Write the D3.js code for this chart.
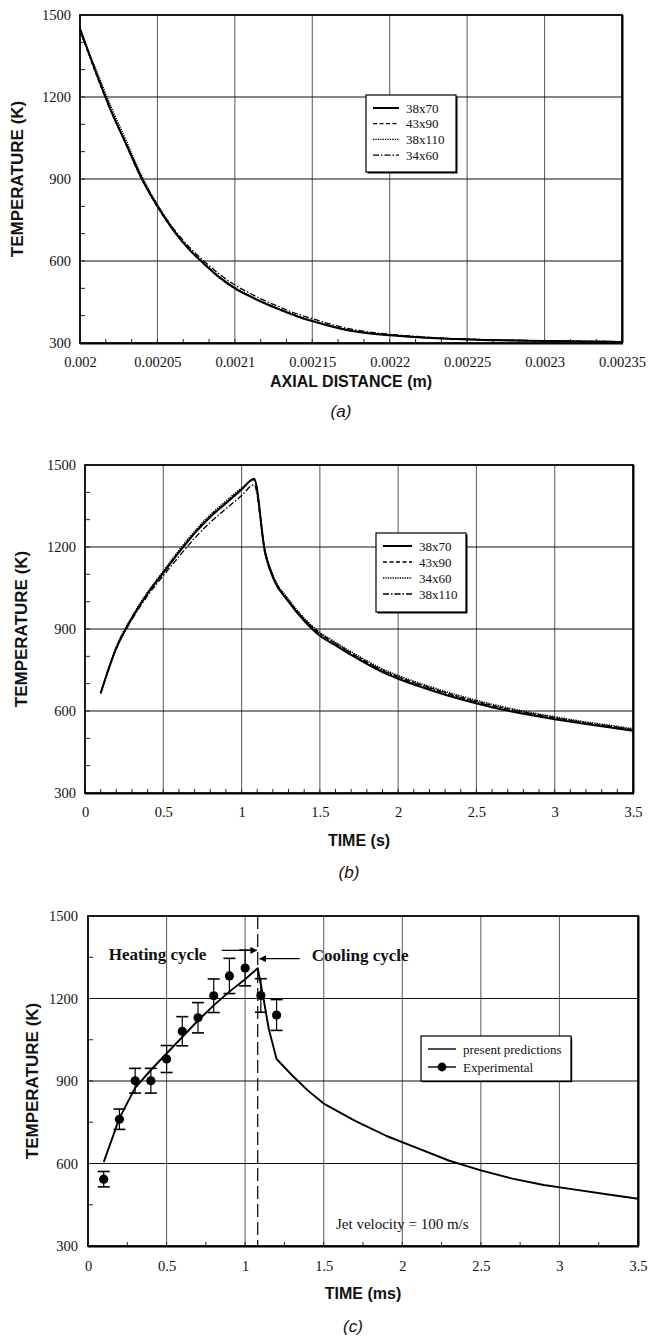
<!DOCTYPE html>
<html>
<head>
<meta charset="utf-8">
<script src="https://cdn.jsdelivr.net/npm/d3@7"></script>
<style>
  html, body { margin: 0; padding: 0; background: #fff; }
  svg { display: block; }
  .serif { font-family: "Liberation Serif", "DejaVu Serif", "Times New Roman", serif; }
  .sans { font-family: "Liberation Sans", Arial, "DejaVu Sans", sans-serif; }
</style>
</head>
<body>
<script>
// ---------------- DATA ----------------
// Panel (a): temperature vs axial distance, four grids
const aX = [0.002,0.00201,0.00202,0.00203,0.00204,0.00205,0.00206,0.00207,0.00208,0.00209,0.0021,0.00211,0.00212,0.00213,0.00214,0.00215,0.00216,0.00217,0.00218,0.00219,0.0022,0.00221,0.00222,0.00223,0.00224,0.00225,0.00227,0.0023,0.00235];
const a38x70  = [1450,1295,1150,1025,900,800,715,645,590,540,500,470,443,420,398,380,364,350,340,333,328,324,320,317,315,313,310,307,304];
const a43x90  = [1445,1290,1148,1022,898,798,714,645,590,541,501,471,444,421,399,381,365,351,341,334,329,325,321,318,316,314,311,308,305];
const a38x110 = [1440,1305,1165,1038,910,806,718,648,593,543,503,472,445,422,400,382,366,352,342,335,330,325,321,318,316,314,311,308,305];
const a34x60  = [1448,1298,1152,1028,904,805,722,654,600,552,512,481,453,429,407,389,372,357,346,338,332,327,323,319,316,314,311,308,305];
const aSeriesNames = ["38x70","43x90","38x110","34x60"];
const aXTicks = [0.002,0.00205,0.0021,0.00215,0.0022,0.00225,0.0023,0.00235];
const aXTickLabels = ["0.002","0.00205","0.0021","0.00215","0.0022","0.00225","0.0023","0.00235"];

// Panel (b): temperature vs time, four grids
const bT = [0.1,0.2,0.3,0.4,0.5,0.6,0.7,0.8,0.9,1.0,1.08,1.15,1.2,1.3,1.4,1.5,1.6,1.7,1.8,1.9,2.0,2.2,2.4,2.6,2.8,3.0,3.2,3.4,3.5];
const b38x70  = [665,830,940,1030,1105,1180,1250,1310,1360,1410,1450,1180,1090,1000,930,875,840,805,772,742,718,678,643,614,590,570,552,536,528];
const b43x90  = [665,832,942,1032,1108,1183,1253,1313,1363,1412,1448,1185,1095,1006,937,884,848,813,780,750,726,686,651,621,597,576,557,541,532];
const b34x60  = [665,835,945,1035,1112,1188,1258,1318,1368,1416,1445,1188,1098,1009,940,888,852,817,784,754,730,690,655,625,600,579,560,544,535];
const b38x110 = [665,828,935,1022,1095,1165,1232,1290,1340,1388,1428,1175,1088,1002,935,882,846,811,778,748,724,684,648,619,595,575,556,540,531];
const bSeriesNames = ["38x70","43x90","34x60","38x110"];
const tTicks = [0,0.5,1,1.5,2,2.5,3,3.5];
const tTickLabels = ["0","0.5","1","1.5","2","2.5","3","3.5"];

// Panel (c): predictions vs experiment
const cT    = [0.1,0.2,0.3,0.4,0.5,0.6,0.7,0.8,0.9,1.0,1.08,1.12,1.15,1.2,1.3,1.4,1.5,1.7,1.9,2.1,2.3,2.5,2.7,2.9,3.1,3.3,3.5];
const cPred = [605,765,875,940,1000,1060,1120,1175,1225,1270,1310,1190,1090,980,920,865,818,755,700,655,610,575,545,522,505,488,472];
const expT    = [0.1,0.2,0.3,0.4,0.5,0.6,0.7,0.8,0.9,1.0,1.1,1.2];
const expTemp = [543,761,901,901,980,1081,1130,1210,1282,1311,1211,1140];
const expErr  = [28,37,45,45,49,53,55,61,64,65,61,56];
const cycleSwitch = 1.08;

const yTicks = [300,600,900,1200,1500];
const yTickLabels = ["300","600","900","1200","1500"];

// ---------------- DRAWING ----------------
const svg = d3.select("body").append("svg").attr("width",650).attr("height",1338);
svg.append("rect").attr("width",650).attr("height",1338).attr("fill","#fff");

const styles = {
  solid:   {w:2.0, dash:null},
  dashed:  {w:1.3, dash:"4,2.5"},
  dotted:  {w:1.4, dash:"1.3,1.1"},
  dashdot: {w:1.3, dash:"6,2,1.5,2"}
};

function panel(o){
  const x = d3.scaleLinear().domain(o.xDomain).range([o.left,o.right]);
  const y = d3.scaleLinear().domain([300,1500]).range([o.bottom,o.top]);
  const g = svg.append("g");

  g.selectAll(".vg").data(o.xTicks.slice(1,-1)).join("line")
    .attr("x1",d=>x(d)).attr("x2",d=>x(d)).attr("y1",o.top).attr("y2",o.bottom)
    .attr("stroke","#666").attr("stroke-width",1.1);
  g.selectAll(".hg").data(yTicks.slice(1,-1)).join("line")
    .attr("x1",o.left).attr("x2",o.right).attr("y1",d=>y(d)).attr("y2",d=>y(d))
    .attr("stroke","#111").attr("stroke-width",1.2);

  const xMinor = d3.range(o.xDomain[0], o.xDomain[1]+1e-12, o.xMinorStep);
  g.selectAll(".xm").data(xMinor).join("line")
    .attr("x1",d=>x(d)).attr("x2",d=>x(d)).attr("y1",o.bottom).attr("y2",o.bottom-4)
    .attr("stroke","#222").attr("stroke-width",1);
  const yMinor = d3.range(300,1500,o.yMinorStep);
  g.selectAll(".ym").data(yMinor).join("line")
    .attr("x1",o.left).attr("x2",o.left+5).attr("y1",d=>y(d)).attr("y2",d=>y(d))
    .attr("stroke","#222").attr("stroke-width",1);

  const xa = g.append("g").attr("transform",`translate(0,${o.bottom})`)
    .call(d3.axisBottom(x).tickValues(o.xTicks).tickSize(0).tickPadding(o.xPad)
      .tickFormat((d,i)=>o.xLabels[i]));
  const ya = g.append("g").attr("transform",`translate(${o.left},0)`)
    .call(d3.axisLeft(y).tickValues(yTicks).tickSize(0).tickPadding(o.yPad)
      .tickFormat((d,i)=>yTickLabels[i]));
  [xa,ya].forEach(a=>{
    a.attr("font-family",null).attr("font-size",null);
    a.select(".domain").remove();
    a.selectAll("text").attr("class","serif").style("font-size","14.5px").attr("fill","#111");
  });

  g.append("rect").attr("x",o.left).attr("y",o.top)
    .attr("width",o.right-o.left).attr("height",o.bottom-o.top)
    .attr("fill","none").attr("stroke","#000").attr("stroke-width",1.8);
  g.append("line").attr("x1",o.left).attr("x2",o.right+1).attr("y1",o.bottom+0.8).attr("y2",o.bottom+0.8)
    .attr("stroke","#000").attr("stroke-width",1.6);
  g.append("line").attr("x1",o.right+0.8).attr("x2",o.right+0.8).attr("y1",o.top).attr("y2",o.bottom)
    .attr("stroke","#000").attr("stroke-width",1.4);

  svg.append("text").attr("class","sans").attr("transform",`translate(${o.yTitleX},${(o.top+o.bottom)/2}) rotate(-90)`)
    .attr("text-anchor","middle").attr("dominant-baseline","central")
    .style("font-weight","bold").style("font-size","17px").attr("fill","#111")
    .text("TEMPERATURE (K)");
  svg.append("text").attr("class","sans").attr("x",(o.left+o.right)/2).attr("y",o.xTitleY)
    .attr("text-anchor","middle").attr("dominant-baseline","central")
    .style("font-weight","bold").style("font-size","16px").attr("fill","#111")
    .text(o.xTitle);
  svg.append("text").attr("class","sans").attr("x",(o.left+o.right)/2 - 10).attr("y",o.capY)
    .attr("text-anchor","middle").attr("dominant-baseline","central")
    .style("font-style","italic").style("font-size","17px").attr("fill","#111")
    .text(o.cap);
  return {x,y,g};
}

function drawSeries(p, xs, ys, st){
  const line = d3.line().x(d=>p.x(d[0])).y(d=>p.y(d[1])).curve(d3.curveMonotoneX);
  p.g.append("path").datum(d3.zip(xs,ys)).attr("d",line)
    .attr("fill","none").attr("stroke","#000").attr("stroke-width",st.w)
    .attr("stroke-dasharray",st.dash).attr("stroke-linejoin","round");
}

function legend(x0,y0,w,h,names,sts,rowH,sampleLen){
  const g = svg.append("g").attr("transform",`translate(${x0},${y0})`);
  g.append("rect").attr("x",1.5).attr("y",1.5).attr("width",w).attr("height",h).attr("fill","#000");
  g.append("rect").attr("width",w).attr("height",h).attr("fill","#fff").attr("stroke","#000").attr("stroke-width",1.2);
  names.forEach((n,i)=>{
    const yy = 13 + i*rowH;
    g.append("line").attr("x1",7).attr("x2",7+sampleLen).attr("y1",yy).attr("y2",yy)
      .attr("stroke","#000").attr("stroke-width",sts[i].w).attr("stroke-dasharray",sts[i].dash);
    g.append("text").attr("class","serif").attr("x",14+sampleLen).attr("y",yy).attr("dominant-baseline","central")
      .style("font-size","13px").attr("fill","#111").text(n);
  });
  return g;
}

// ---- Panel (a)
const pa = panel({left:80,right:622,top:15,bottom:343,xDomain:[0.002,0.00235],
  xTicks:aXTicks,xLabels:aXTickLabels,xMinorStep:0.00005/3,yMinorStep:100,
  xPad:14,yPad:9,yTitleX:17,xTitle:"AXIAL DISTANCE (m)",xTitleY:381,cap:"(a)",capY:411});
drawSeries(pa,aX,a43x90,styles.dashed);
drawSeries(pa,aX,a38x110,styles.dotted);
drawSeries(pa,aX,a34x60,styles.dashdot);
drawSeries(pa,aX,a38x70,styles.solid);
legend(366,95,90,77,aSeriesNames,[styles.solid,styles.dashed,styles.dotted,styles.dashdot],15.7,26);

// ---- Panel (b)
const pb = panel({left:85,right:633,top:465,bottom:793,xDomain:[0,3.5],
  xTicks:tTicks,xLabels:tTickLabels,xMinorStep:0.1,yMinorStep:100,
  xPad:14,yPad:9,yTitleX:21,xTitle:"TIME (s)",xTitleY:840,cap:"(b)",capY:872});
drawSeries(pb,bT,b43x90,styles.dashed);
drawSeries(pb,bT,b34x60,styles.dotted);
drawSeries(pb,bT,b38x110,styles.dashdot);
drawSeries(pb,bT,b38x70,styles.solid);
legend(376,533,90,79,bSeriesNames,[styles.solid,styles.dashed,styles.dotted,styles.dashdot],16,29);

// ---- Panel (c)
const pc = panel({left:88,right:638,top:916,bottom:1246,xDomain:[0,3.5],
  xTicks:tTicks,xLabels:tTickLabels,xMinorStep:0.25,yMinorStep:150,
  xPad:15,yPad:10,yTitleX:32,xTitle:"TIME (ms)",xTitleY:1293,cap:"(c)",capY:1326});

pc.g.append("line").attr("x1",pc.x(cycleSwitch)).attr("x2",pc.x(cycleSwitch))
  .attr("y1",pc.y(1500)).attr("y2",pc.y(300))
  .attr("stroke","#000").attr("stroke-width",1.2).attr("stroke-dasharray","13,5");

pc.g.append("path").datum(d3.zip(cT,cPred))
  .attr("d",d3.line().x(d=>pc.x(d[0])).y(d=>pc.y(d[1])))
  .attr("fill","none").attr("stroke","#000").attr("stroke-width",1.9).attr("stroke-linejoin","round");

const expData = d3.zip(expT,expTemp,expErr);
const eb = pc.g.selectAll(".eb").data(expData).join("g");
eb.append("line").attr("x1",d=>pc.x(d[0])).attr("x2",d=>pc.x(d[0]))
  .attr("y1",d=>pc.y(d[1]+d[2])).attr("y2",d=>pc.y(d[1]-d[2])).attr("stroke","#000").attr("stroke-width",1.2);
eb.append("line").attr("x1",d=>pc.x(d[0])-6).attr("x2",d=>pc.x(d[0])+6)
  .attr("y1",d=>pc.y(d[1]+d[2])).attr("y2",d=>pc.y(d[1]+d[2])).attr("stroke","#000").attr("stroke-width",1.6);
eb.append("line").attr("x1",d=>pc.x(d[0])-6).attr("x2",d=>pc.x(d[0])+6)
  .attr("y1",d=>pc.y(d[1]-d[2])).attr("y2",d=>pc.y(d[1]-d[2])).attr("stroke","#000").attr("stroke-width",1.6);
eb.append("circle").attr("cx",d=>pc.x(d[0])).attr("cy",d=>pc.y(d[1])).attr("r",4.6).attr("fill","#000");

const xs = pc.x(cycleSwitch);
const defs = svg.append("defs");
defs.append("marker").attr("id","ah").attr("viewBox","0 0 10 10").attr("refX",9).attr("refY",5)
  .attr("markerWidth",9).attr("markerHeight",7).attr("markerUnits","userSpaceOnUse").attr("orient","auto")
  .append("path").attr("d","M0,0 L10,5 L0,10 Z").attr("fill","#000");
svg.append("text").attr("class","serif").attr("x",xs-149).attr("y",pc.y(1360)).attr("dominant-baseline","central")
  .style("font-weight","bold").style("font-size","17px").attr("fill","#111").text("Heating cycle");
svg.append("line").attr("x1",xs-36).attr("x2",xs-1).attr("y1",pc.y(1375)).attr("y2",pc.y(1375))
  .attr("stroke","#000").attr("stroke-width",1.3).attr("marker-end","url(#ah)");
svg.append("text").attr("class","serif").attr("x",xs+54).attr("y",pc.y(1355)).attr("dominant-baseline","central")
  .style("font-weight","bold").style("font-size","17px").attr("fill","#111").text("Cooling cycle");
svg.append("line").attr("x1",xs+42).attr("x2",xs+2).attr("y1",pc.y(1345)).attr("y2",pc.y(1345))
  .attr("stroke","#000").attr("stroke-width",1.3).attr("marker-end","url(#ah)");

svg.append("text").attr("class","serif").attr("x",pc.x(2.0)).attr("y",pc.y(380)).attr("text-anchor","middle").attr("dominant-baseline","central")
  .style("font-size","15px").attr("fill","#111").text("Jet velocity = 100 m/s");

const lc = svg.append("g").attr("transform","translate(421,1036)");
lc.append("rect").attr("x",1.2).attr("y",1.2).attr("width",150).attr("height",45).attr("fill","#000");
lc.append("rect").attr("width",150).attr("height",45).attr("fill","#fff").attr("stroke","#000").attr("stroke-width",1.2);
lc.append("line").attr("x1",7).attr("x2",35).attr("y1",13).attr("y2",13).attr("stroke","#000").attr("stroke-width",1.4);
lc.append("text").attr("class","serif").attr("x",42).attr("y",13).attr("dominant-baseline","central")
  .style("font-size","13px").attr("fill","#111").text("present predictions");
lc.append("line").attr("x1",7).attr("x2",35).attr("y1",31).attr("y2",31).attr("stroke","#000").attr("stroke-width",1.4);
lc.append("circle").attr("cx",21).attr("cy",31).attr("r",4.4).attr("fill","#000");
lc.append("text").attr("class","serif").attr("x",42).attr("y",31).attr("dominant-baseline","central")
  .style("font-size","13px").attr("fill","#111").text("Experimental");
</script>
</body>
</html>
